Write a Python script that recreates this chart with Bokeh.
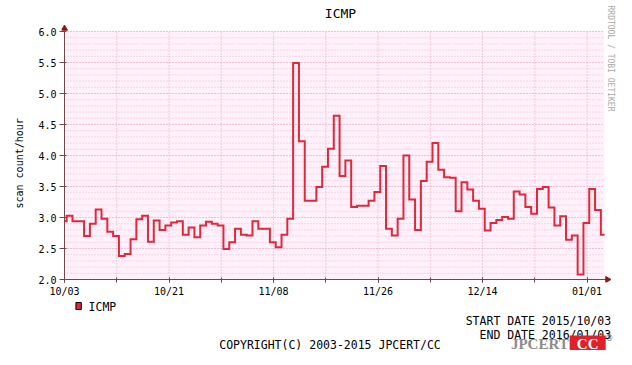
import math
import pandas as pd
from bokeh.plotting import figure
from bokeh.layouts import column
from bokeh.models import (Range1d, FixedTicker, DatetimeTickFormatter, PrintfTickFormatter,
                          BoxAnnotation, Title)
from bokeh.core.properties import value
from bokeh.embed import file_html
from bokeh.resources import INLINE

# ---- data (daily ICMP scan count/hour, 2015/10/03 - 2016/01/03) ----
start_date = "2015-10-03"
end_date = "2016-01-04"
first_bin_edge = "2015-10-03 09:00"
values = [2.94, 3.03, 2.94, 2.94, 2.70, 2.90, 3.13, 2.98, 2.77, 2.70,
          2.38, 2.41, 2.65, 2.97, 3.03, 2.61, 2.95, 2.80, 2.87, 2.92,
          2.94, 2.72, 2.84, 2.68, 2.87, 2.93, 2.90, 2.87, 2.49, 2.60,
          2.82, 2.72, 2.71, 2.94, 2.82, 2.82, 2.60, 2.52, 2.72, 2.98,
          5.49, 4.23, 3.27, 3.27, 3.49, 3.82, 4.11, 4.64, 3.67, 3.92,
          3.17, 3.19, 3.19, 3.27, 3.41, 3.83, 2.82, 2.71, 2.98, 4.00,
          3.29, 2.80, 3.59, 3.90, 4.20, 3.77, 3.65, 3.64, 3.10, 3.57,
          3.45, 3.27, 3.14, 2.79, 2.91, 2.96, 3.01, 2.98, 3.42, 3.37,
          3.17, 3.06, 3.46, 3.49, 3.16, 2.87, 3.02, 2.64, 2.71, 2.08,
          2.91, 3.46, 3.12, 2.72]
tick_labels = ["10/03", "10/21", "11/08", "11/26", "12/14", "01/01"]
y_ticks = [2.0, 2.5, 3.0, 3.5, 4.0, 4.5, 5.0, 5.5, 6.0]
series_name = "ICMP"
title_text = "ICMP"
y_label = "scan count/hour"
start_text = "START DATE 2015/10/03"
end_text = "END DATE 2016/01/03"
copyright_text = "COPYRIGHT(C) 2003-2015 JPCERT/CC"
side_text = "RRDTOOL / TOBI OETIKER"
logo_left, logo_right, logo_mark = "JPCERT", "CC", "\u00ae"

# ---- derived ----
t0 = pd.Timestamp(start_date)
t1 = pd.Timestamp(end_date)
edges = [t0] + list(pd.date_range(first_bin_edge, periods=len(values) - 1, freq="D"))
xs = edges + [t1]
ys = values + [values[-1]]

def ms(t):
    return t.value / 1e6

n_days = (t1 - t0).days
major = [ms(t0 + pd.Timedelta(days=18 * i)) for i in range(len(tick_labels))]
minor = [ms(t0 + pd.Timedelta(days=9 * i)) for i in range(n_days // 9 + 1)]
y_minor = [round(2.0 + 0.1 * i, 1) for i in range(41)]

# ---- layout constants (canvas pixels) ----
W, H = 616, 349
X0 = 64               # canvas x of start date
D = 540               # pixels for t0..t1
EXT_L = 3
FL = X0 - EXT_L       # frame left
Y6, Y2 = 31, 279      # canvas y of 6.0 and 2.0
PXU = (Y2 - Y6) / 4.0
EXT_B = 3
FH = Y2 + EXT_B       # frame spans canvas y 0..FH
BOT = 16
MH = FH + BOT         # main figure height
MONO = "DejaVu Sans Mono"
AX = "#6E4848"
ARROW = "#8B1A1A"
RED = "#E0283C"

ms_per_px = (ms(t1) - ms(t0)) / D
x_lo, x_hi = ms(t0) - EXT_L * ms_per_px, ms(t0) + (W - X0) * ms_per_px
y_lo, y_hi = 2.0 - EXT_B / PXU, 6.0 + Y6 / PXU

def cx(px):   # canvas x -> data x (main figure)
    return ms(t0) + (px - X0) * ms_per_px

def cy(py):   # canvas y -> data y (main figure)
    return 6.0 - (py - Y6) / PXU

p = figure(x_axis_type="datetime", frame_width=W - FL, frame_height=FH,
           min_border_left=FL, min_border_right=0, min_border_top=0, min_border_bottom=BOT,
           x_range=Range1d(x_lo, x_hi), y_range=Range1d(y_lo, y_hi),
           output_backend="svg", toolbar_location=None,
           background_fill_color="#FFFFFF", border_fill_color="#FFFFFF")
p.outline_line_color = None
p.grid.visible = False

p.xaxis.ticker = FixedTicker(ticks=major, minor_ticks=minor)
p.xaxis.formatter = DatetimeTickFormatter(days="%m/%d", months="%m/%d", years="%m/%d")
p.yaxis.ticker = FixedTicker(ticks=y_ticks, minor_ticks=y_minor)
p.yaxis.formatter = PrintfTickFormatter(format="%.1f")
for ax in (p.xaxis, p.yaxis):
    ax.axis_line_color = None
    ax.major_tick_line_color = AX
    ax.major_label_text_font = MONO
    ax.major_label_text_font_size = "10px"
    ax.major_label_text_color = "#000000"
p.yaxis.major_tick_in = 5
p.yaxis.major_tick_out = 2
p.yaxis.major_label_standoff = 1
p.yaxis.minor_tick_line_color = None
p.xaxis.major_tick_in = 5
p.xaxis.major_tick_out = 0
p.xaxis.minor_tick_line_color = AX
p.xaxis.minor_tick_in = 5
p.xaxis.minor_tick_out = 0
p.xaxis.major_label_standoff = 3

ylab = Title(text=y_label, align="left", offset=74, standoff=21,
             text_font=MONO, text_font_size="10px", text_font_style="normal",
             text_color="#000000")
p.add_layout(ylab, "left")

# canvas (pink) area
p.add_layout(BoxAnnotation(left=ms(t0), right=ms(t1), bottom=2.0, top=6.0,
                           fill_color="#FFF0FA", fill_alpha=1.0, line_color=None,
                           level="underlay"))

# grid lines from the tick lists, limited to the canvas area
hy_minor = [v for v in y_minor if v > 2.0 and v not in y_ticks]
hy_major = [v for v in y_ticks if v > 2.0]
p.segment(x0=[ms(t0)] * len(hy_minor), x1=[ms(t1)] * len(hy_minor), y0=hy_minor, y1=hy_minor,
          line_color="#EBBCD2", line_dash="1 2", line_width=1)
p.segment(x0=[ms(t0)] * len(hy_major), x1=[ms(t1)] * len(hy_major), y0=hy_major, y1=hy_major,
          line_color="#E08CAC", line_dash="1 2", line_width=1)
vx = [m for m in minor if m > ms(t0)]
p.segment(x0=vx, x1=vx, y0=[2.0] * len(vx), y1=[6.0] * len(vx),
          line_color="#DDA6C0", line_dash="1 2", line_width=1)

# data line
p.step(xs, ys, mode="after", line_color=RED, line_width=2, line_join="miter")

# axis lines and arrows
p.segment(x0=[ms(t0)], x1=[ms(t0)], y0=[2.0 - 3 / PXU], y1=[6.0 + 1 / PXU],
          line_color=AX, line_width=1)
p.segment(x0=[x_lo], x1=[ms(t1) + 2 * ms_per_px], y0=[2.0], y1=[2.0],
          line_color=AX, line_width=1)
p.scatter([ms(t0)], [6.0 + 3 / PXU], marker="triangle", size=6,
          fill_color=ARROW, line_color=ARROW)
p.scatter([ms(t1) + 3 * ms_per_px], [2.0], marker="triangle", size=6, angle=-math.pi / 2,
          fill_color=ARROW, line_color=ARROW)

# title and side credit (inside the frame's upper margin)
p.text(x=[cx(340)], y=[cy(13)], text=[title_text], text_font=value(MONO),
       text_font_size=value("13px"), text_color="#000000", text_align=value("center"),
       text_baseline=value("middle"))
p.text(x=[cx(610)], y=[cy(5)], text=[side_text], text_font=value(MONO),
       text_font_size=value("8px"), text_color="#A8A8A8", text_align=value("left"),
       text_baseline=value("middle"), angle=-math.pi / 2)

# ---- footer ----
FOOT_H = H - MH
f = figure(width=W, height=FOOT_H, x_range=Range1d(0, W), y_range=Range1d(H, MH),
           min_border_left=0, min_border_right=0, min_border_top=0, min_border_bottom=0,
           x_axis_location=None, y_axis_location=None,
           output_backend="svg", toolbar_location=None,
           background_fill_color="#FFFFFF", border_fill_color="#FFFFFF")
f.outline_line_color = None
f.grid.visible = False

def ftext(x, y, text, size="11.5px", color="#000000", align="left", font=MONO, style="normal"):
    f.text(x=[x], y=[y], text=[text], text_font=value(font), text_font_size=value(size),
           text_color=color, text_align=value(align), text_baseline=value("middle"),
           text_font_style=value(style))

# legend
f.quad(left=[16], right=[22], top=[301], bottom=[308], fill_color=RED, line_color="#000000",
       line_width=1)
ftext(30, 305, series_name)

ftext(610, 319, start_text, align="right")
ftext(610, 333, end_text, align="right")
ftext(298, 343, copyright_text, align="center")

# logo
f.quad(left=[564], right=[604], top=[334], bottom=[349], fill_color="#E0202A", line_color=None)
ftext(563, 342, logo_left, size="15px", color="#8C8C8C", align="right",
      font="Liberation Serif", style="bold")
ftext(584, 342, logo_right, size="15px", color="#FFFFFF", align="center",
      font="Liberation Serif", style="bold")
ftext(608, 337, logo_mark, size="8px", color="#555555", align="center", font="DejaVu Sans")

layout = column(p, f, spacing=0)
open("out.html", "w").write(file_html(layout, INLINE))
